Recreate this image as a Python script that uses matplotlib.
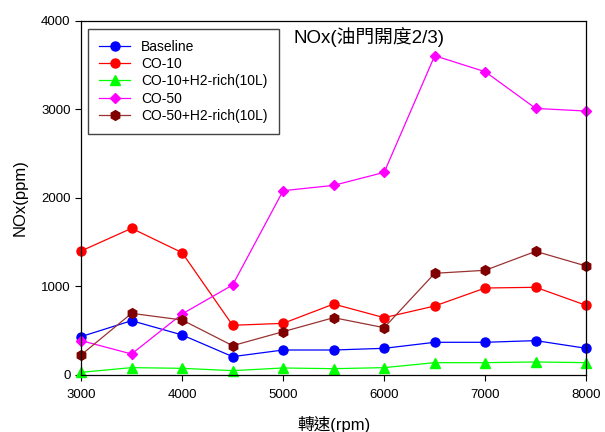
import matplotlib
matplotlib.use('Agg')
import matplotlib.pyplot as plt

rpm = [3000, 3500, 4000, 4500, 5000, 5500, 6000, 6500, 7000, 7500, 8000]
baseline = [433, 613, 452, 207, 282, 282, 301, 369, 369, 388, 301]
co10 = [1400, 1656, 1381, 561, 583, 801, 647, 779, 982, 990, 786]
co10_h2 = [30, 83, 75, 49, 79, 71, 83, 139, 139, 147, 139]
co50 = [388, 237, 689, 1016, 2081, 2141, 2288, 3605, 3424, 3010, 2980]
co50_h2 = [226, 696, 621, 331, 489, 647, 534, 1148, 1182, 1396, 1230]

plt.rcParams['font.family'] = ['Liberation Sans', 'Noto Sans CJK TC', 'DejaVu Sans']

fig = plt.figure(figsize=(6.05, 4.32), dpi=100)
ax = fig.add_axes([0.134, 0.132, 0.835, 0.820])

series = [
    (baseline, 'Baseline', '#0000ff', '#0000ff', 'o', 6.5),
    (co10, 'CO-10', '#ff0000', '#ff0000', 'o', 6.5),
    (co10_h2, 'CO-10+H2-rich(10L)', '#00ff00', '#00ff00', '^', 6.5),
    (co50, 'CO-50', '#ff00ff', '#ff00ff', 'D', 5.5),
    (co50_h2, 'CO-50+H2-rich(10L)', '#993333', '#800000', 'h', 7),
]
for vals, name, lc, mc, mk, ms in series:
    ax.plot(rpm, vals, color=lc, lw=0.9, marker=mk, ms=ms,
            markerfacecolor=mc, markeredgecolor=mc, label=name, clip_on=False)

ax.set_xlim(3000, 8000)
ax.set_ylim(0, 4000)
ax.set_xticks(range(3000, 8001, 1000))
ax.set_yticks(range(0, 4001, 1000))
ax.tick_params(direction='out', length=4, width=0.8, labelsize=9.5)
ax.tick_params(axis='x', pad=6)
for s in ax.spines.values():
    s.set_linewidth(0.9)

ax.set_xlabel('轉速(rpm)', fontsize=12, labelpad=11)
ax.set_ylabel('NOx(ppm)', fontsize=12, labelpad=10)

# title sits inside the plot area
ax.text(0.42, 0.955, 'NOx(油門開度2/3)', transform=ax.transAxes,
        fontsize=13.5, va='center', ha='left')

leg = ax.legend(loc='upper left', bbox_to_anchor=(0.014, 0.978), fontsize=10,
                fancybox=False, framealpha=1, edgecolor='#444444',
                handlelength=2.2, labelspacing=0.24, borderpad=0.8,
                handletextpad=0.8, borderaxespad=0)
leg.get_frame().set_linewidth(1.0)

fig.savefig('out.png', dpi=100)
